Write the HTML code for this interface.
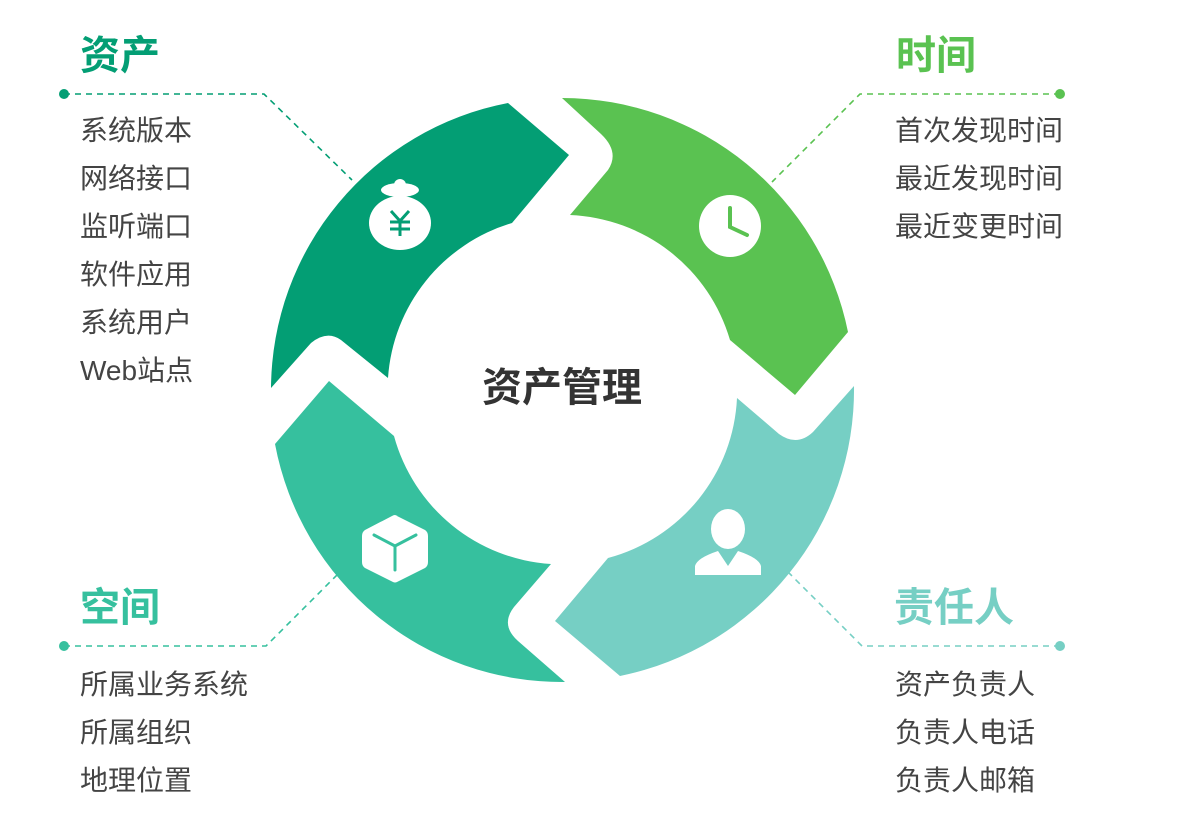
<!DOCTYPE html>
<html><head><meta charset="utf-8"><style>
body{margin:0;width:1184px;height:839px;background:#fff;overflow:hidden;position:relative;font-family:"Liberation Sans","Noto Sans CJK SC",sans-serif}
.t{position:absolute;font-size:40px;font-weight:bold;line-height:40px}
.l{position:absolute;font-size:28px;color:#444;line-height:48px}
</style></head><body>
<svg width="1184" height="839" style="position:absolute;left:0;top:0">
<g fill="none" stroke-width="1.6" stroke-dasharray="6,5">
<polyline points="64,94 264,94 352,180" stroke="#039e74"/>
<polyline points="1060,94 860,94 772,182" stroke="#5ac251"/>
<polyline points="64,646 266,646 338,574" stroke="#36c09e"/>
<polyline points="1060,646 862,646 788,572" stroke="#76cfc4"/>
</g>
<circle cx="64" cy="94" r="5" fill="#039e74"/>
<circle cx="1060" cy="94" r="5" fill="#5ac251"/>
<circle cx="64" cy="646" r="5" fill="#36c09e"/>
<circle cx="1060" cy="646" r="5" fill="#76cfc4"/>
<path d="M271,388 A292,292 0 0 1 508,103 L569,155 L512,223 A174,174 0 0 0 388,378 L341,340 Q327,330 311,343 Z" fill="#039e74"/>
<path d="M562,98 A292,292 0 0 1 848,332 L795,395 L730,340 A174,174 0 0 0 570,215 L608,170 Q620,152 601,134 Z" fill="#5ac251"/>
<path d="M854,386 A292,292 0 0 1 620,676 L555,621 L608,558 A174,174 0 0 0 737,398 L779,434 Q797,447 813,432 Z" fill="#76cfc4"/>
<path d="M565,682 A292,292 0 0 1 275,444 L329,381 L394,436 A174,174 0 0 0 551,564 L514,607 Q500,625 518,641 Z" fill="#36c09e"/>
<g fill="#fff">
<ellipse cx="400" cy="223" rx="31" ry="27"/>
<ellipse cx="400" cy="190" rx="19" ry="7"/>
<circle cx="400" cy="185" r="6"/>
</g>
<g stroke="#039e74" stroke-width="3" fill="none"><polyline points="391,211 400,221 409,211"/><line x1="400" y1="221" x2="400" y2="236"/><line x1="390" y1="222" x2="410" y2="222"/><line x1="390" y1="229" x2="410" y2="229"/></g>
<circle cx="730" cy="226" r="31" fill="#fff"/>
<polyline points="730,208 730,227 747,235" stroke="#5ac251" stroke-width="4" fill="none" stroke-linecap="round"/>
<path d="M395,515 L425,530 Q428,532 428,536 L428,562 Q428,566 425,568 L397,582 Q395,583 393,582 L365,568 Q362,566 362,562 L362,536 Q362,532 365,530 L392,516 Q395,514 398,516 Z" fill="#fff"/>
<polyline points="374,535 395,546 416,535" stroke="#36c09e" stroke-width="3" fill="none" stroke-linecap="round"/>
<line x1="395" y1="546" x2="395" y2="570" stroke="#36c09e" stroke-width="3" stroke-linecap="round"/>
<ellipse cx="728" cy="529" rx="17" ry="20" fill="#fff"/>
<path d="M695,575 L695,566 Q697,558 718,551 L728,566 L738,551 Q759,558 761,566 L761,575 Z" fill="#fff"/>
</svg>
<div class="t" style="left:80px;top:36px;color:#039e74">资产</div>
<div class="t" style="left:896px;top:36px;color:#5ac251">时间</div>
<div class="t" style="left:80px;top:588px;color:#36c09e">空间</div>
<div class="t" style="left:894px;top:588px;color:#76cfc4">责任人</div>
<div class="l" style="left:80px;top:107px">系统版本<br>网络接口<br>监听端口<br>软件应用<br>系统用户<br>Web站点</div>
<div class="l" style="left:895px;top:107px">首次发现时间<br>最近发现时间<br>最近变更时间</div>
<div class="l" style="left:80px;top:661px">所属业务系统<br>所属组织<br>地理位置</div>
<div class="l" style="left:895px;top:661px">资产负责人<br>负责人电话<br>负责人邮箱</div>
<div style="position:absolute;left:462px;top:366px;width:200px;text-align:center;font-size:40px;font-weight:bold;color:#333;line-height:44px">资产管理</div>
</body></html>
